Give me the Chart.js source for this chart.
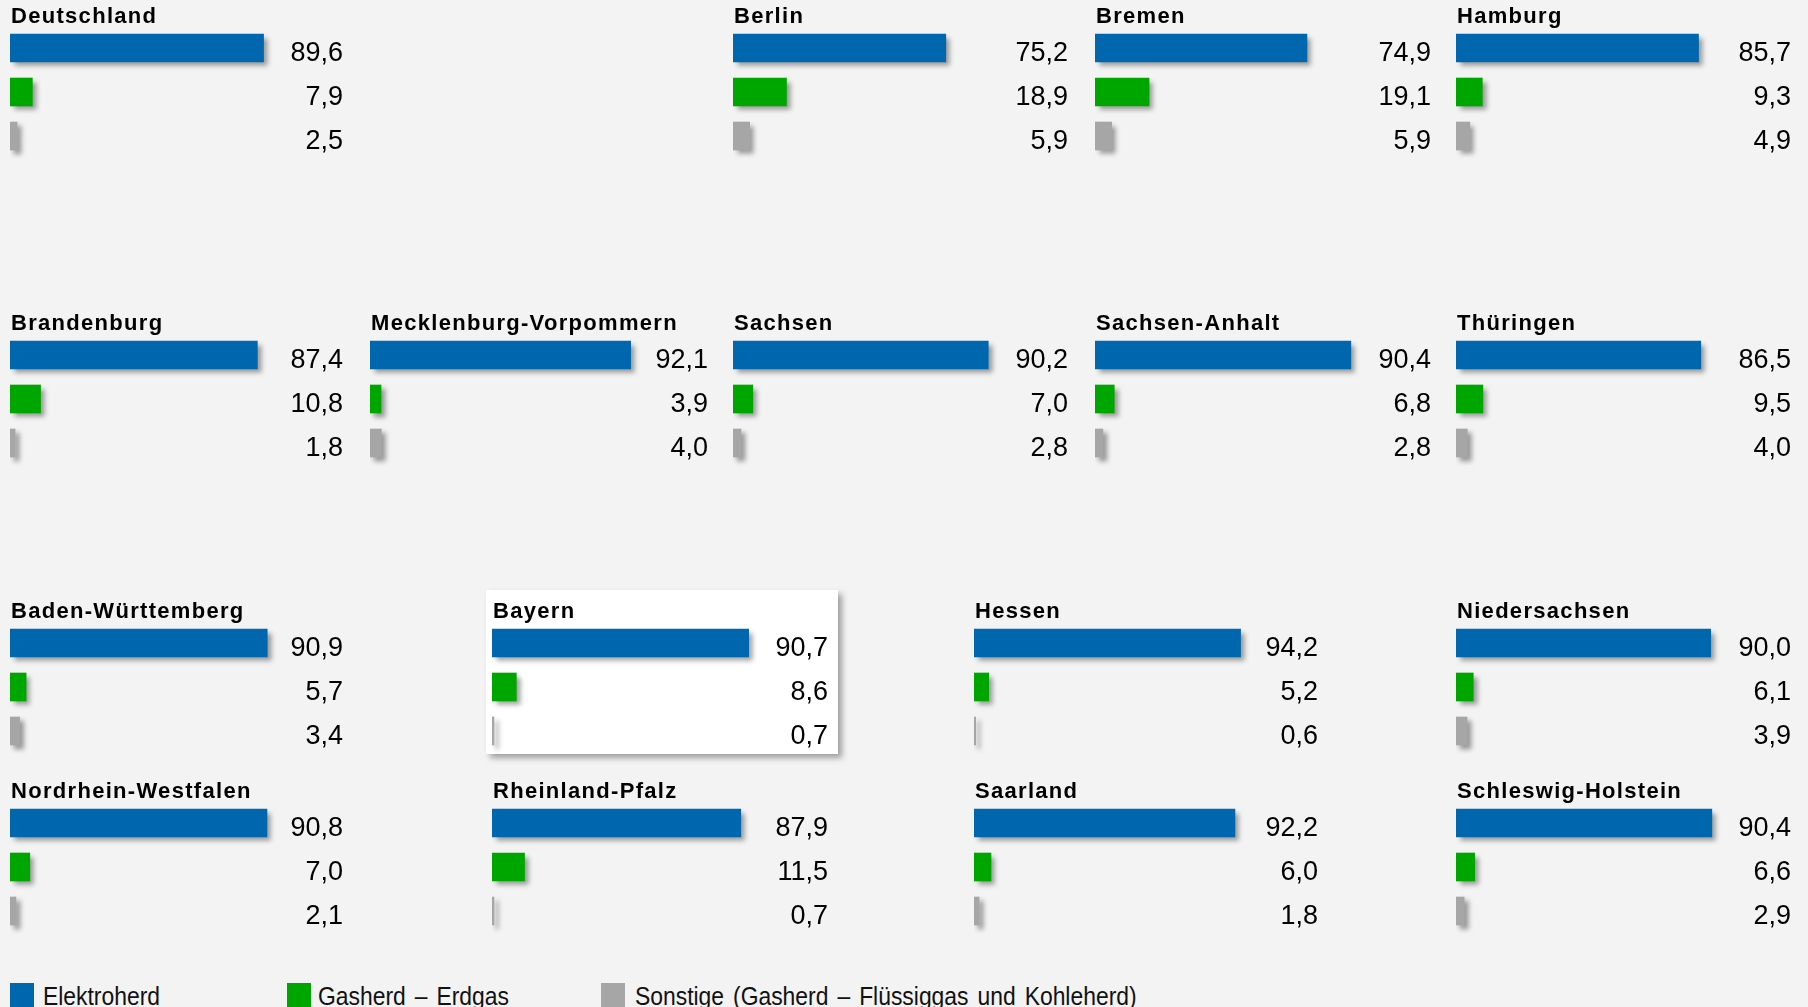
<!DOCTYPE html>
<html lang="de">
<head>
<meta charset="utf-8">
<title>Ausstattung der Haushalte mit Herden nach Ländern</title>
<script src="https://cdn.jsdelivr.net/npm/chart.js@4.4.1/dist/chart.umd.min.js"></script>
<style>
  html, body { margin: 0; padding: 0; }
  body {
    width: 1808px; height: 1007px; overflow: hidden; position: relative;
    background: #f3f3f3; font-family: "Liberation Sans", Arial, sans-serif;
  }
  canvas.panel { position: absolute; }
  #highlight {
    position: absolute; left: 486px; top: 590px; width: 352px; height: 164px;
    background: #ffffff; box-shadow: 4px 4px 6px rgba(0, 0, 0, 0.35);
  }
  .lg-box { position: absolute; top: 983px; width: 24px; height: 25px; }
  .lg-text {
    position: absolute; top: 983px; font-size: 26px; line-height: 26px; color: #111;
    white-space: nowrap; transform: scaleX(0.88); transform-origin: 0 0; word-spacing: 3px;
  }
</style>
</head>
<body>
<div id="highlight"></div>
<div id="legend"></div>
<script>
// Regions (Bundesland) and shares of households by stove type, in percent
const regions = [
  'Deutschland', 'Berlin', 'Bremen', 'Hamburg',
  'Brandenburg', 'Mecklenburg-Vorpommern', 'Sachsen', 'Sachsen-Anhalt', 'Thüringen',
  'Baden-Württemberg', 'Bayern', 'Hessen', 'Niedersachsen',
  'Nordrhein-Westfalen', 'Rheinland-Pfalz', 'Saarland', 'Schleswig-Holstein'
];
const elektroherd = [
  89.6, 75.2, 74.9, 85.7,
  87.4, 92.1, 90.2, 90.4, 86.5,
  90.9, 90.7, 94.2, 90.0,
  90.8, 87.9, 92.2, 90.4
];
const gasherdErdgas = [
  7.9, 18.9, 19.1, 9.3,
  10.8, 3.9, 7.0, 6.8, 9.5,
  5.7, 8.6, 5.2, 6.1,
  7.0, 11.5, 6.0, 6.6
];
const sonstige = [
  2.5, 5.9, 5.9, 4.9,
  1.8, 4.0, 2.8, 2.8, 4.0,
  3.4, 0.7, 0.6, 3.9,
  2.1, 0.7, 1.8, 2.9
];
const seriesNames = ['Elektroherd', 'Gasherd – Erdgas', 'Sonstige (Gasherd – Flüssiggas und Kohleherd)'];
const seriesColors = ['#0066ad', '#00a600', '#a6a6a6'];

// Panel placement: left edge of the bars, top of the plot area,
// and distance from the bar origin to the right edge of the value labels
const slots = [
  { x: 10,   top: 26,  lab: 333 },
  { x: 733,  top: 26,  lab: 335 },
  { x: 1095, top: 26,  lab: 336 },
  { x: 1456, top: 26,  lab: 335 },
  { x: 10,   top: 333, lab: 333 },
  { x: 370,  top: 333, lab: 338 },
  { x: 733,  top: 333, lab: 335 },
  { x: 1095, top: 333, lab: 336 },
  { x: 1456, top: 333, lab: 335 },
  { x: 10,   top: 621, lab: 333 },
  { x: 492,  top: 621, lab: 336 },
  { x: 974,  top: 621, lab: 344 },
  { x: 1456, top: 621, lab: 335 },
  { x: 10,   top: 801, lab: 333 },
  { x: 492,  top: 801, lab: 336 },
  { x: 974,  top: 801, lab: 344 },
  { x: 1456, top: 801, lab: 335 }
];

const PLOT_W = 283;     // pixels for 0..100 %
const PAD_TOP = 30;     // room for the panel heading
const PLOT_H = 132;     // three bar rows
const PAD_BOTTOM = 12;  // room for the bar shadows

const fmt = v => v.toFixed(1).replace('.', ',');

// Shadowed bars, bold heading and right-aligned value labels
const panelDecor = {
  id: 'panelDecor',
  beforeDatasetsDraw(chart) {
    const ctx = chart.ctx;
    ctx.save();
    ctx.shadowColor = 'rgba(0, 0, 0, 0.38)';
    ctx.shadowOffsetX = 4;
    ctx.shadowOffsetY = 4;
    ctx.shadowBlur = 5;
  },
  afterDatasetsDraw(chart, args, opts) {
    const ctx = chart.ctx;
    ctx.restore();
    const { left, top } = chart.chartArea;
    ctx.save();
    ctx.fillStyle = '#000';
    ctx.textBaseline = 'alphabetic';
    ctx.textAlign = 'left';
    ctx.font = 'bold 22px "Liberation Sans", Arial, sans-serif';
    ctx.letterSpacing = '1.3px';
    ctx.fillText(opts.heading, left + 1, top - 3);
    ctx.letterSpacing = '0px';
    ctx.font = '27px "Liberation Sans", Arial, sans-serif';
    ctx.textAlign = 'right';
    const ds = chart.data.datasets[0];
    chart.getDatasetMeta(0).data.forEach((bar, i) => {
      ctx.fillText(fmt(ds.data[i]), chart.width - 2, bar.y + 13);
    });
    ctx.restore();
  }
};

regions.forEach((name, i) => {
  const s = slots[i];
  const cv = document.createElement('canvas');
  cv.className = 'panel';
  const w = s.lab + 2;
  const h = PAD_TOP + PLOT_H + PAD_BOTTOM;
  cv.width = w; cv.height = h;
  cv.style.left = s.x + 'px';
  cv.style.top = (s.top - PAD_TOP) + 'px';
  cv.style.width = w + 'px'; cv.style.height = h + 'px';
  document.body.appendChild(cv);

  new Chart(cv, {
    type: 'bar',
    data: {
      labels: seriesNames,
      datasets: [{
        data: [elektroherd[i], gasherdErdgas[i], sonstige[i]],
        backgroundColor: seriesColors,
        borderWidth: 0,
        barThickness: 28,
        clip: false
      }]
    },
    options: {
      indexAxis: 'y',
      responsive: false,
      animation: false,
      devicePixelRatio: 1,
      layout: { padding: { top: PAD_TOP, bottom: PAD_BOTTOM, left: 0, right: w - PLOT_W } },
      scales: {
        x: { display: false, min: 0, max: 100 },
        y: { display: false }
      },
      plugins: {
        legend: { display: false },
        tooltip: { enabled: false },
        title: { display: false },
        panelDecor: { heading: name }
      }
    },
    plugins: [panelDecor]
  });
});

// Legend
const legend = document.getElementById('legend');
const legendPos = [{ box: 10, text: 43 }, { box: 287, text: 318 }, { box: 601, text: 635 }];
seriesNames.forEach((n, i) => {
  const b = document.createElement('div');
  b.className = 'lg-box';
  b.style.left = legendPos[i].box + 'px';
  b.style.background = seriesColors[i];
  legend.appendChild(b);
  const t = document.createElement('div');
  t.className = 'lg-text';
  t.style.left = legendPos[i].text + 'px';
  t.textContent = n;
  legend.appendChild(t);
});
</script>
</body>
</html>
